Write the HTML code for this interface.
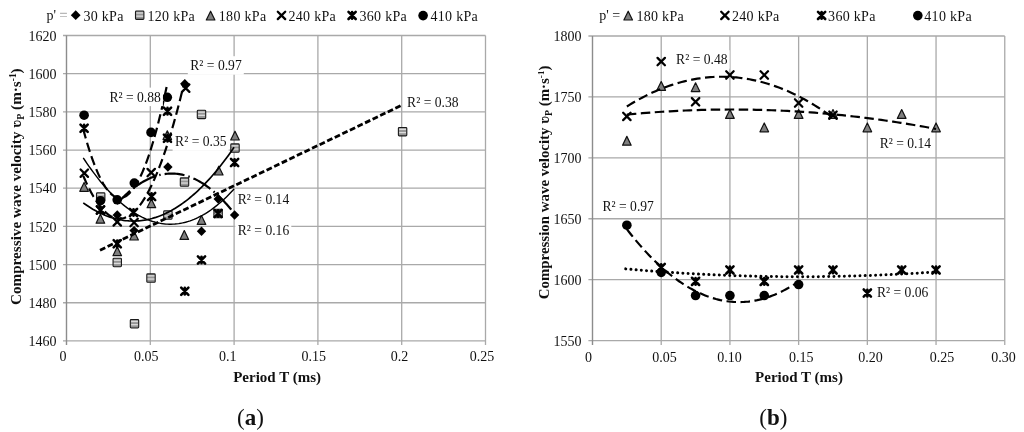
<!DOCTYPE html><html><head><meta charset="utf-8"><style>html,body{margin:0;padding:0;background:#fff;width:1024px;height:432px;overflow:hidden}</style></head><body><svg width="1024" height="432" viewBox="0 0 1024 432" style="position:absolute;left:0;top:0;filter:blur(0.35px);font-family:'Liberation Serif', serif;fill:#111">
<defs><pattern id="stripe" patternUnits="userSpaceOnUse" width="4" height="2.6"><rect width="4" height="2.6" fill="#8e8e8e"/><rect y="0" width="4" height="1.2" fill="#d4d4d4"/></pattern></defs>
<rect width="1024" height="432" fill="#fff"/>
<line x1="63.00" y1="35.50" x2="485.50" y2="35.50" stroke="#a9a9a9" stroke-width="1.3" />
<line x1="63.00" y1="73.68" x2="485.50" y2="73.68" stroke="#a9a9a9" stroke-width="1.3" />
<line x1="63.00" y1="111.86" x2="485.50" y2="111.86" stroke="#a9a9a9" stroke-width="1.3" />
<line x1="63.00" y1="150.04" x2="485.50" y2="150.04" stroke="#a9a9a9" stroke-width="1.3" />
<line x1="63.00" y1="188.22" x2="485.50" y2="188.22" stroke="#a9a9a9" stroke-width="1.3" />
<line x1="63.00" y1="226.40" x2="485.50" y2="226.40" stroke="#a9a9a9" stroke-width="1.3" />
<line x1="63.00" y1="264.58" x2="485.50" y2="264.58" stroke="#a9a9a9" stroke-width="1.3" />
<line x1="63.00" y1="302.76" x2="485.50" y2="302.76" stroke="#a9a9a9" stroke-width="1.3" />
<line x1="63.00" y1="340.94" x2="485.50" y2="340.94" stroke="#a9a9a9" stroke-width="1.3" />
<line x1="150.30" y1="35.50" x2="150.30" y2="345.00" stroke="#a9a9a9" stroke-width="1.3" />
<line x1="234.10" y1="35.50" x2="234.10" y2="345.00" stroke="#a9a9a9" stroke-width="1.3" />
<line x1="317.90" y1="35.50" x2="317.90" y2="345.00" stroke="#a9a9a9" stroke-width="1.3" />
<line x1="401.70" y1="35.50" x2="401.70" y2="345.00" stroke="#a9a9a9" stroke-width="1.3" />
<line x1="485.50" y1="35.50" x2="485.50" y2="345.00" stroke="#a9a9a9" stroke-width="1.3" />
<line x1="66.50" y1="35.50" x2="66.50" y2="345.00" stroke="#8c8c8c" stroke-width="1.4" />
<line x1="588.40" y1="36.00" x2="1004.75" y2="36.00" stroke="#a9a9a9" stroke-width="1.3" />
<line x1="588.40" y1="96.92" x2="1004.75" y2="96.92" stroke="#a9a9a9" stroke-width="1.3" />
<line x1="588.40" y1="157.84" x2="1004.75" y2="157.84" stroke="#a9a9a9" stroke-width="1.3" />
<line x1="588.40" y1="218.76" x2="1004.75" y2="218.76" stroke="#a9a9a9" stroke-width="1.3" />
<line x1="588.40" y1="279.68" x2="1004.75" y2="279.68" stroke="#a9a9a9" stroke-width="1.3" />
<line x1="588.40" y1="340.60" x2="1004.75" y2="340.60" stroke="#a9a9a9" stroke-width="1.3" />
<line x1="661.21" y1="36.00" x2="661.21" y2="345.00" stroke="#a9a9a9" stroke-width="1.3" />
<line x1="729.92" y1="36.00" x2="729.92" y2="345.00" stroke="#a9a9a9" stroke-width="1.3" />
<line x1="798.63" y1="36.00" x2="798.63" y2="345.00" stroke="#a9a9a9" stroke-width="1.3" />
<line x1="867.34" y1="36.00" x2="867.34" y2="345.00" stroke="#a9a9a9" stroke-width="1.3" />
<line x1="936.05" y1="36.00" x2="936.05" y2="345.00" stroke="#a9a9a9" stroke-width="1.3" />
<line x1="1004.76" y1="36.00" x2="1004.76" y2="345.00" stroke="#a9a9a9" stroke-width="1.3" />
<line x1="592.50" y1="36.00" x2="592.50" y2="345.00" stroke="#8c8c8c" stroke-width="1.4" />
<text x="56.50" y="40.70" font-size="14" text-anchor="end" font-weight="normal" >1620</text>
<text x="56.50" y="78.88" font-size="14" text-anchor="end" font-weight="normal" >1600</text>
<text x="56.50" y="117.06" font-size="14" text-anchor="end" font-weight="normal" >1580</text>
<text x="56.50" y="155.24" font-size="14" text-anchor="end" font-weight="normal" >1560</text>
<text x="56.50" y="193.42" font-size="14" text-anchor="end" font-weight="normal" >1540</text>
<text x="56.50" y="231.60" font-size="14" text-anchor="end" font-weight="normal" >1520</text>
<text x="56.50" y="269.78" font-size="14" text-anchor="end" font-weight="normal" >1500</text>
<text x="56.50" y="307.96" font-size="14" text-anchor="end" font-weight="normal" >1480</text>
<text x="56.50" y="346.14" font-size="14" text-anchor="end" font-weight="normal" >1460</text>
<text x="581.50" y="41.20" font-size="14" text-anchor="end" font-weight="normal" >1800</text>
<text x="581.50" y="102.12" font-size="14" text-anchor="end" font-weight="normal" >1750</text>
<text x="581.50" y="163.04" font-size="14" text-anchor="end" font-weight="normal" >1700</text>
<text x="581.50" y="223.96" font-size="14" text-anchor="end" font-weight="normal" >1650</text>
<text x="581.50" y="284.88" font-size="14" text-anchor="end" font-weight="normal" >1600</text>
<text x="581.50" y="345.80" font-size="14" text-anchor="end" font-weight="normal" >1550</text>
<text x="62.90" y="361.30" font-size="14" text-anchor="middle" font-weight="normal" >0</text>
<text x="146.25" y="361.30" font-size="14" text-anchor="middle" font-weight="normal" >0.05</text>
<text x="227.80" y="361.30" font-size="14" text-anchor="middle" font-weight="normal" >0.1</text>
<text x="313.75" y="361.30" font-size="14" text-anchor="middle" font-weight="normal" >0.15</text>
<text x="399.40" y="361.30" font-size="14" text-anchor="middle" font-weight="normal" >0.2</text>
<text x="481.90" y="361.30" font-size="14" text-anchor="middle" font-weight="normal" >0.25</text>
<text x="588.40" y="361.60" font-size="14" text-anchor="middle" font-weight="normal" >0</text>
<text x="664.40" y="361.60" font-size="14" text-anchor="middle" font-weight="normal" >0.05</text>
<text x="729.40" y="361.60" font-size="14" text-anchor="middle" font-weight="normal" >0.10</text>
<text x="801.20" y="361.60" font-size="14" text-anchor="middle" font-weight="normal" >0.15</text>
<text x="870.40" y="361.60" font-size="14" text-anchor="middle" font-weight="normal" >0.20</text>
<text x="942.10" y="361.60" font-size="14" text-anchor="middle" font-weight="normal" >0.25</text>
<text x="1003.40" y="361.60" font-size="14" text-anchor="middle" font-weight="normal" >0.30</text>
<text x="277.10" y="381.60" font-size="15" text-anchor="middle" font-weight="bold" >Period T (ms)</text>
<text x="799.00" y="381.60" font-size="15" text-anchor="middle" font-weight="bold" >Period T (ms)</text>
<text transform="translate(21.3,186.7) rotate(-90)" font-size="15.2" font-weight="bold" text-anchor="middle">Compressive wave velocity ʋ<tspan font-size="10.0" dy="2.5">P</tspan><tspan dy="-2.5"> (m·s</tspan><tspan font-size="9.4" dy="-5">-1</tspan><tspan dy="5">)</tspan></text>
<text transform="translate(549,182.4) rotate(-90)" font-size="14.9" font-weight="bold" text-anchor="middle">Compression wave velocity ʋ<tspan font-size="9.8" dy="2.5">P</tspan><tspan dy="-2.5"> (m·s</tspan><tspan font-size="9.2" dy="-5">-1</tspan><tspan dy="5">)</tspan></text>
<text x="250.4" y="425.3" font-size="23" text-anchor="middle">(<tspan font-weight="bold">a</tspan>)</text>
<text x="773.4" y="425.3" font-size="23" text-anchor="middle">(<tspan font-weight="bold">b</tspan>)</text>
<text x="46.60" y="19.80" font-size="14" text-anchor="start" font-weight="normal" >p'</text>
<text x="59.50" y="19.70" font-size="14" text-anchor="start" font-weight="normal" fill="#999" stroke="#bbb" stroke-width="0.4">=</text>
<path d="M75.70,10.30L80.60,15.20L75.70,20.10L70.80,15.20Z" fill="#000"/>
<text x="83.40" y="20.60" font-size="14" text-anchor="start" font-weight="normal" letter-spacing="0.3">30 kPa</text>
<rect x="135.50" y="11.00" width="8.40" height="8.40" rx="0.9" fill="#959595" stroke="#1a1a1a" stroke-width="1.1"/>
<rect x="136.30" y="12.30" width="6.80" height="1.3" fill="#dcdcdc"/>
<rect x="136.30" y="15.50" width="6.80" height="1.3" fill="#dcdcdc"/>
<text x="147.50" y="20.60" font-size="14" text-anchor="start" font-weight="normal" letter-spacing="0.3">120 kPa</text>
<path d="M210.60,11.20L214.90,20.00L206.30,20.00Z" fill="#7f7f7f" stroke="#111" stroke-width="1.2" stroke-linejoin="round"/>
<text x="218.80" y="20.60" font-size="14" text-anchor="start" font-weight="normal" letter-spacing="0.3">180 kPa</text>
<path d="M277.80,11.70L285.20,19.10M285.20,11.70L277.80,19.10" stroke="#000" stroke-width="2.3" stroke-linecap="round"/>
<text x="288.50" y="20.60" font-size="14" text-anchor="start" font-weight="normal" letter-spacing="0.3">240 kPa</text>
<path d="M348.50,11.80L355.70,19.00M355.70,11.80L348.50,19.00M352.10,12.10L352.10,18.70" stroke="#000" stroke-width="2.6" stroke-linecap="round"/>
<text x="359.50" y="20.60" font-size="14" text-anchor="start" font-weight="normal" letter-spacing="0.3">360 kPa</text>
<circle cx="423.10" cy="15.60" r="4.80" fill="#000"/>
<text x="430.50" y="20.60" font-size="14" text-anchor="start" font-weight="normal" letter-spacing="0.3">410 kPa</text>
<text x="599.30" y="19.80" font-size="14" text-anchor="start" font-weight="normal" >p'</text>
<text x="612.20" y="19.80" font-size="14" text-anchor="start" font-weight="normal" >=</text>
<path d="M628.20,11.20L632.50,20.00L623.90,20.00Z" fill="#7f7f7f" stroke="#111" stroke-width="1.2" stroke-linejoin="round"/>
<text x="636.40" y="20.60" font-size="14" text-anchor="start" font-weight="normal" letter-spacing="0.3">180 kPa</text>
<path d="M721.20,11.70L728.60,19.10M728.60,11.70L721.20,19.10" stroke="#000" stroke-width="2.3" stroke-linecap="round"/>
<text x="732.00" y="20.60" font-size="14" text-anchor="start" font-weight="normal" letter-spacing="0.3">240 kPa</text>
<path d="M818.00,11.80L825.20,19.00M825.20,11.80L818.00,19.00M821.60,12.10L821.60,18.70" stroke="#000" stroke-width="2.6" stroke-linecap="round"/>
<text x="828.10" y="20.60" font-size="14" text-anchor="start" font-weight="normal" letter-spacing="0.3">360 kPa</text>
<circle cx="917.80" cy="15.60" r="4.80" fill="#000"/>
<text x="924.30" y="20.60" font-size="14" text-anchor="start" font-weight="normal" letter-spacing="0.3">410 kPa</text>
<path d="M184.80,79.05L189.50,83.75L184.80,88.45L180.10,83.75Z" fill="#000"/>
<path d="M167.90,162.30L172.60,167.00L167.90,171.70L163.20,167.00Z" fill="#000"/>
<path d="M117.25,210.30L121.95,215.00L117.25,219.70L112.55,215.00Z" fill="#000"/>
<path d="M134.10,225.90L138.80,230.60L134.10,235.30L129.40,230.60Z" fill="#000"/>
<path d="M201.50,226.55L206.20,231.25L201.50,235.95L196.80,231.25Z" fill="#000"/>
<path d="M218.20,194.30L222.90,199.00L218.20,203.70L213.50,199.00Z" fill="#000"/>
<path d="M234.60,210.30L239.30,215.00L234.60,219.70L229.90,215.00Z" fill="#000"/>
<rect x="398.40" y="127.45" width="8.40" height="8.40" rx="0.9" fill="#959595" stroke="#1a1a1a" stroke-width="1.1"/>
<rect x="399.20" y="128.75" width="6.80" height="1.3" fill="#dcdcdc"/>
<rect x="399.20" y="131.95" width="6.80" height="1.3" fill="#dcdcdc"/>
<rect x="197.30" y="110.20" width="8.40" height="8.40" rx="0.9" fill="#959595" stroke="#1a1a1a" stroke-width="1.1"/>
<rect x="198.10" y="111.50" width="6.80" height="1.3" fill="#dcdcdc"/>
<rect x="198.10" y="114.70" width="6.80" height="1.3" fill="#dcdcdc"/>
<rect x="230.80" y="143.90" width="8.40" height="8.40" rx="0.9" fill="#959595" stroke="#1a1a1a" stroke-width="1.1"/>
<rect x="231.60" y="145.20" width="6.80" height="1.3" fill="#dcdcdc"/>
<rect x="231.60" y="148.40" width="6.80" height="1.3" fill="#dcdcdc"/>
<rect x="180.30" y="177.90" width="8.40" height="8.40" rx="0.9" fill="#959595" stroke="#1a1a1a" stroke-width="1.1"/>
<rect x="181.10" y="179.20" width="6.80" height="1.3" fill="#dcdcdc"/>
<rect x="181.10" y="182.40" width="6.80" height="1.3" fill="#dcdcdc"/>
<rect x="96.50" y="192.80" width="8.40" height="8.40" rx="0.9" fill="#959595" stroke="#1a1a1a" stroke-width="1.1"/>
<rect x="97.30" y="194.10" width="6.80" height="1.3" fill="#dcdcdc"/>
<rect x="97.30" y="197.30" width="6.80" height="1.3" fill="#dcdcdc"/>
<rect x="163.70" y="210.80" width="8.40" height="8.40" rx="0.9" fill="#959595" stroke="#1a1a1a" stroke-width="1.1"/>
<rect x="164.50" y="212.10" width="6.80" height="1.3" fill="#dcdcdc"/>
<rect x="164.50" y="215.30" width="6.80" height="1.3" fill="#dcdcdc"/>
<rect x="213.90" y="209.30" width="8.40" height="8.40" rx="0.9" fill="#959595" stroke="#1a1a1a" stroke-width="1.1"/>
<rect x="214.70" y="210.60" width="6.80" height="1.3" fill="#dcdcdc"/>
<rect x="214.70" y="213.80" width="6.80" height="1.3" fill="#dcdcdc"/>
<rect x="113.05" y="258.30" width="8.40" height="8.40" rx="0.9" fill="#959595" stroke="#1a1a1a" stroke-width="1.1"/>
<rect x="113.85" y="259.60" width="6.80" height="1.3" fill="#dcdcdc"/>
<rect x="113.85" y="262.80" width="6.80" height="1.3" fill="#dcdcdc"/>
<rect x="146.80" y="273.90" width="8.40" height="8.40" rx="0.9" fill="#959595" stroke="#1a1a1a" stroke-width="1.1"/>
<rect x="147.60" y="275.20" width="6.80" height="1.3" fill="#dcdcdc"/>
<rect x="147.60" y="278.40" width="6.80" height="1.3" fill="#dcdcdc"/>
<rect x="130.30" y="319.55" width="8.40" height="8.40" rx="0.9" fill="#959595" stroke="#1a1a1a" stroke-width="1.1"/>
<rect x="131.10" y="320.85" width="6.80" height="1.3" fill="#dcdcdc"/>
<rect x="131.10" y="324.05" width="6.80" height="1.3" fill="#dcdcdc"/>
<path d="M235.00,131.20L239.30,140.00L230.70,140.00Z" fill="#7f7f7f" stroke="#111" stroke-width="1.2" stroke-linejoin="round"/>
<path d="M218.75,166.20L223.05,175.00L214.45,175.00Z" fill="#7f7f7f" stroke="#111" stroke-width="1.2" stroke-linejoin="round"/>
<path d="M84.10,182.50L88.40,191.30L79.80,191.30Z" fill="#7f7f7f" stroke="#111" stroke-width="1.2" stroke-linejoin="round"/>
<path d="M151.40,198.90L155.70,207.70L147.10,207.70Z" fill="#7f7f7f" stroke="#111" stroke-width="1.2" stroke-linejoin="round"/>
<path d="M100.40,214.35L104.70,223.15L96.10,223.15Z" fill="#7f7f7f" stroke="#111" stroke-width="1.2" stroke-linejoin="round"/>
<path d="M201.50,215.60L205.80,224.40L197.20,224.40Z" fill="#7f7f7f" stroke="#111" stroke-width="1.2" stroke-linejoin="round"/>
<path d="M184.30,230.60L188.60,239.40L180.00,239.40Z" fill="#7f7f7f" stroke="#111" stroke-width="1.2" stroke-linejoin="round"/>
<path d="M134.10,231.20L138.40,240.00L129.80,240.00Z" fill="#7f7f7f" stroke="#111" stroke-width="1.2" stroke-linejoin="round"/>
<path d="M117.25,246.85L121.55,255.65L112.95,255.65Z" fill="#7f7f7f" stroke="#111" stroke-width="1.2" stroke-linejoin="round"/>
<path d="M167.30,130.80L171.60,139.60L163.00,139.60Z" fill="#7f7f7f" stroke="#111" stroke-width="1.2" stroke-linejoin="round"/>
<path d="M182.00,84.50L189.40,91.90M189.40,84.50L182.00,91.90" stroke="#000" stroke-width="2.3" stroke-linecap="round"/>
<path d="M80.60,169.50L88.00,176.90M88.00,169.50L80.60,176.90" stroke="#000" stroke-width="2.3" stroke-linecap="round"/>
<path d="M147.50,168.90L154.90,176.30M154.90,168.90L147.50,176.30" stroke="#000" stroke-width="2.3" stroke-linecap="round"/>
<path d="M113.55,218.20L120.95,225.60M120.95,218.20L113.55,225.60" stroke="#000" stroke-width="2.3" stroke-linecap="round"/>
<path d="M130.40,218.80L137.80,226.20M137.80,218.80L130.40,226.20" stroke="#000" stroke-width="2.3" stroke-linecap="round"/>
<path d="M96.80,206.30L104.20,213.70M104.20,206.30L96.80,213.70" stroke="#000" stroke-width="2.3" stroke-linecap="round"/>
<path d="M80.50,124.60L87.70,131.80M87.70,124.60L80.50,131.80M84.10,124.90L84.10,131.50" stroke="#000" stroke-width="2.6" stroke-linecap="round"/>
<path d="M163.90,107.60L171.10,114.80M171.10,107.60L163.90,114.80M167.50,107.90L167.50,114.50" stroke="#000" stroke-width="2.6" stroke-linecap="round"/>
<path d="M163.90,134.60L171.10,141.80M171.10,134.60L163.90,141.80M167.50,134.90L167.50,141.50" stroke="#000" stroke-width="2.6" stroke-linecap="round"/>
<path d="M148.00,192.90L155.20,200.10M155.20,192.90L148.00,200.10M151.60,193.20L151.60,199.80" stroke="#000" stroke-width="2.6" stroke-linecap="round"/>
<path d="M96.90,206.40L104.10,213.60M104.10,206.40L96.90,213.60M100.50,206.70L100.50,213.30" stroke="#000" stroke-width="2.6" stroke-linecap="round"/>
<path d="M129.90,208.90L137.10,216.10M137.10,208.90L129.90,216.10M133.50,209.20L133.50,215.80" stroke="#000" stroke-width="2.6" stroke-linecap="round"/>
<path d="M113.65,240.15L120.85,247.35M120.85,240.15L113.65,247.35M117.25,240.45L117.25,247.05" stroke="#000" stroke-width="2.6" stroke-linecap="round"/>
<path d="M214.50,209.90L221.70,217.10M221.70,209.90L214.50,217.10M218.10,210.20L218.10,216.80" stroke="#000" stroke-width="2.6" stroke-linecap="round"/>
<path d="M231.00,158.90L238.20,166.10M238.20,158.90L231.00,166.10M234.60,159.20L234.60,165.80" stroke="#000" stroke-width="2.6" stroke-linecap="round"/>
<path d="M197.90,256.40L205.10,263.60M205.10,256.40L197.90,263.60M201.50,256.70L201.50,263.30" stroke="#000" stroke-width="2.6" stroke-linecap="round"/>
<path d="M181.20,287.60L188.40,294.80M188.40,287.60L181.20,294.80M184.80,287.90L184.80,294.50" stroke="#000" stroke-width="2.6" stroke-linecap="round"/>
<circle cx="84.10" cy="115.20" r="4.80" fill="#000"/>
<circle cx="100.50" cy="200.70" r="4.80" fill="#000"/>
<circle cx="117.20" cy="199.80" r="4.80" fill="#000"/>
<circle cx="134.30" cy="183.10" r="4.80" fill="#000"/>
<circle cx="151.00" cy="132.40" r="4.80" fill="#000"/>
<circle cx="167.30" cy="97.30" r="4.80" fill="#000"/>
<path d="M83.26,129.25 L84.32,133.16 L85.38,136.96 L86.44,140.64 L87.50,144.21 L88.56,147.67 L89.62,151.00 L90.69,154.23 L91.75,157.34 L92.81,160.33 L93.87,163.21 L94.93,165.97 L95.99,168.62 L97.05,171.16 L98.11,173.58 L99.17,175.88 L100.23,178.07 L101.29,180.15 L102.35,182.11 L103.41,183.96 L104.48,185.69 L105.54,187.30 L106.60,188.81 L107.66,190.19 L108.72,191.47 L109.78,192.62 L110.84,193.67 L111.90,194.59 L112.96,195.41 L114.02,196.10 L115.08,196.69 L116.14,197.16 L117.20,197.51 L118.27,197.75 L119.33,197.87 L120.39,197.88 L121.45,197.78 L122.51,197.56 L123.57,197.22 L124.63,196.77 L125.69,196.21 L126.75,195.53 L127.81,194.74 L128.87,193.83 L129.93,192.80 L130.99,191.67 L132.05,190.41 L133.12,189.04 L134.18,187.56 L135.24,185.96 L136.30,184.25 L137.36,182.43 L138.42,180.48 L139.48,178.43 L140.54,176.26 L141.60,173.97 L142.66,171.57 L143.72,169.05 L144.78,166.42 L145.84,163.68 L146.91,160.82 L147.97,157.84 L149.03,154.75 L150.09,151.55 L151.15,148.23 L152.21,144.79 L153.27,141.24 L154.33,137.58 L155.39,133.80 L156.45,129.91 L157.51,125.90 L158.57,121.78 L159.63,117.54 L160.70,113.19 L161.76,108.72 L162.82,104.14 L163.88,99.44 L164.94,94.63 L166.00,89.70 L167.06,84.66" fill="none" stroke="#000" stroke-width="2.2" stroke-dasharray="9.5 4.5" stroke-linecap="butt" stroke-linejoin="round"/>
<path d="M83.26,175.82 L84.53,178.77 L85.81,181.62 L87.08,184.36 L88.35,186.99 L89.62,189.52 L90.90,191.95 L92.17,194.27 L93.44,196.48 L94.72,198.59 L95.99,200.59 L97.26,202.49 L98.53,204.28 L99.81,205.97 L101.08,207.55 L102.35,209.03 L103.63,210.40 L104.90,211.67 L106.17,212.83 L107.45,213.88 L108.72,214.83 L109.99,215.68 L111.26,216.42 L112.54,217.05 L113.81,217.58 L115.08,218.00 L116.36,218.32 L117.63,218.53 L118.90,218.64 L120.17,218.64 L121.45,218.54 L122.72,218.33 L123.99,218.01 L125.27,217.59 L126.54,217.07 L127.81,216.44 L129.08,215.70 L130.36,214.86 L131.63,213.92 L132.90,212.86 L134.18,211.71 L135.45,210.44 L136.72,209.08 L138.00,207.60 L139.27,206.03 L140.54,204.34 L141.81,202.55 L143.09,200.66 L144.36,198.66 L145.63,196.55 L146.91,194.34 L148.18,192.03 L149.45,189.61 L150.72,187.08 L152.00,184.45 L153.27,181.71 L154.54,178.87 L155.82,175.92 L157.09,172.87 L158.36,169.71 L159.63,166.44 L160.91,163.08 L162.18,159.60 L163.45,156.02 L164.73,152.34 L166.00,148.55 L167.27,144.65 L168.55,140.65 L169.82,136.54 L171.09,132.33 L172.36,128.01 L173.64,123.59 L174.91,119.06 L176.18,114.43 L177.46,109.69 L178.73,104.84 L180.00,99.90 L181.27,94.84 L182.55,89.68 L183.82,84.41" fill="none" stroke="#000" stroke-width="2.2" stroke-dasharray="9.5 4.5" stroke-linecap="butt" stroke-linejoin="round"/>
<path d="M83.26,157.88 L85.17,160.76 L87.08,163.56 L88.99,166.31 L90.90,168.99 L92.81,171.61 L94.72,174.16 L96.63,176.65 L98.53,179.08 L100.44,181.44 L102.35,183.74 L104.26,185.98 L106.17,188.15 L108.08,190.26 L109.99,192.30 L111.90,194.28 L113.81,196.20 L115.72,198.06 L117.63,199.85 L119.54,201.58 L121.45,203.24 L123.36,204.84 L125.27,206.38 L127.18,207.85 L129.08,209.26 L130.99,210.61 L132.90,211.89 L134.81,213.11 L136.72,214.26 L138.63,215.36 L140.54,216.38 L142.45,217.35 L144.36,218.25 L146.27,219.09 L148.18,219.86 L150.09,220.57 L152.00,221.22 L153.91,221.80 L155.82,222.32 L157.73,222.78 L159.63,223.17 L161.54,223.50 L163.45,223.77 L165.36,223.97 L167.27,224.11 L169.18,224.19 L171.09,224.20 L173.00,224.14 L174.91,224.03 L176.82,223.85 L178.73,223.61 L180.64,223.30 L182.55,222.93 L184.46,222.50 L186.37,222.00 L188.28,221.44 L190.18,220.82 L192.09,220.13 L194.00,219.38 L195.91,218.56 L197.82,217.69 L199.73,216.74 L201.64,215.74 L203.55,214.67 L205.46,213.54 L207.37,212.34 L209.28,211.08 L211.19,209.76 L213.10,208.37 L215.01,206.92 L216.92,205.41 L218.83,203.83 L220.73,202.19 L222.64,200.49 L224.55,198.72 L226.46,196.89 L228.37,194.99 L230.28,193.03 L232.19,191.01 L234.10,188.92" fill="none" stroke="#000" stroke-width="1.4"  stroke-linecap="butt" stroke-linejoin="round"/>
<path d="M83.26,202.88 L85.17,204.24 L87.08,205.55 L88.99,206.80 L90.90,208.00 L92.81,209.15 L94.72,210.24 L96.63,211.29 L98.53,212.27 L100.44,213.21 L102.35,214.09 L104.26,214.92 L106.17,215.70 L108.08,216.43 L109.99,217.10 L111.90,217.72 L113.81,218.28 L115.72,218.79 L117.63,219.25 L119.54,219.66 L121.45,220.01 L123.36,220.31 L125.27,220.56 L127.18,220.76 L129.08,220.90 L130.99,220.99 L132.90,221.03 L134.81,221.01 L136.72,220.94 L138.63,220.82 L140.54,220.64 L142.45,220.41 L144.36,220.13 L146.27,219.80 L148.18,219.41 L150.09,218.97 L152.00,218.48 L153.91,217.93 L155.82,217.34 L157.73,216.68 L159.63,215.98 L161.54,215.22 L163.45,214.41 L165.36,213.55 L167.27,212.63 L169.18,211.66 L171.09,210.64 L173.00,209.57 L174.91,208.44 L176.82,207.26 L178.73,206.03 L180.64,204.74 L182.55,203.40 L184.46,202.01 L186.37,200.56 L188.28,199.06 L190.18,197.51 L192.09,195.91 L194.00,194.25 L195.91,192.54 L197.82,190.78 L199.73,188.96 L201.64,187.10 L203.55,185.18 L205.46,183.20 L207.37,181.17 L209.28,179.09 L211.19,176.96 L213.10,174.77 L215.01,172.54 L216.92,170.24 L218.83,167.90 L220.73,165.50 L222.64,163.05 L224.55,160.55 L226.46,157.99 L228.37,155.38 L230.28,152.72 L232.19,150.01 L234.10,147.24" fill="none" stroke="#000" stroke-width="1.7"  stroke-linecap="butt" stroke-linejoin="round"/>
<path d="M100.02,250.17 L401.70,105.27" fill="none" stroke="#000" stroke-width="2.8" stroke-dasharray="5.8 2.6" stroke-linecap="butt" stroke-linejoin="round"/>
<g stroke-dashoffset="1.4">
<path d="M116.75,203.93 L118.24,202.30 L119.72,200.72 L121.21,199.19 L122.69,197.70 L124.18,196.25 L125.66,194.85 L127.15,193.49 L128.63,192.18 L130.12,190.91 L131.60,189.69 L133.09,188.51 L134.58,187.38 L136.06,186.29 L137.55,185.25 L139.03,184.25 L140.52,183.29 L142.00,182.38 L143.49,181.52 L144.97,180.70 L146.46,179.92 L147.94,179.19 L149.43,178.50 L150.92,177.86 L152.40,177.26 L153.89,176.71 L155.37,176.20 L156.86,175.74 L158.34,175.32 L159.83,174.94 L161.31,174.61 L162.80,174.33 L164.28,174.09 L165.77,173.89 L167.26,173.74 L168.74,173.64 L170.23,173.57 L171.71,173.56 L173.20,173.58 L174.68,173.66 L176.17,173.77 L177.65,173.94 L179.14,174.14 L180.62,174.39 L182.11,174.69 L183.59,175.03 L185.08,175.41 L186.57,175.84 L188.05,176.32 L189.54,176.84 L191.02,177.40 L192.51,178.01 L193.99,178.66 L195.48,179.36 L196.96,180.10 L198.45,180.89 L199.93,181.72 L201.42,182.60 L202.91,183.52 L204.39,184.48 L205.88,185.49 L207.36,186.55 L208.85,187.65 L210.33,188.79 L211.82,189.98 L213.30,191.22 L214.79,192.49 L216.27,193.82 L217.76,195.18 L219.25,196.60 L220.73,198.05 L222.22,199.56 L223.70,201.10 L225.19,202.69 L226.67,204.33 L228.16,206.01 L229.64,207.73 L231.13,209.50 L232.61,211.32 L234.10,213.18" fill="none" stroke="#000" stroke-width="2.2" stroke-dasharray="20 4 1.5 4" stroke-linecap="butt" stroke-linejoin="round"/>
</g>
<rect x="187.80" y="56.22" width="56.00" height="18.48" fill="#fff"/>
<text x="190.30" y="70.20" font-size="13.6" text-anchor="start" font-weight="normal" >R² = 0.97</text>
<rect x="106.90" y="87.62" width="56.00" height="18.48" fill="#fff"/>
<text x="109.40" y="101.60" font-size="13.6" text-anchor="start" font-weight="normal" >R² = 0.88</text>
<rect x="172.60" y="132.42" width="56.00" height="18.48" fill="#fff"/>
<text x="175.10" y="146.40" font-size="13.6" text-anchor="start" font-weight="normal" >R² = 0.35</text>
<rect x="235.30" y="189.77" width="56.00" height="18.48" fill="#fff"/>
<text x="237.80" y="203.75" font-size="13.6" text-anchor="start" font-weight="normal" >R² = 0.14</text>
<rect x="235.30" y="220.92" width="56.00" height="18.48" fill="#fff"/>
<text x="237.80" y="234.90" font-size="13.6" text-anchor="start" font-weight="normal" >R² = 0.16</text>
<text x="407.10" y="106.90" font-size="13.6" text-anchor="start" font-weight="normal" >R² = 0.38</text>
<path d="M626.86,136.38L631.16,145.18L622.55,145.18Z" fill="#7f7f7f" stroke="#111" stroke-width="1.2" stroke-linejoin="round"/>
<path d="M661.21,81.55L665.51,90.35L656.91,90.35Z" fill="#7f7f7f" stroke="#111" stroke-width="1.2" stroke-linejoin="round"/>
<path d="M695.57,82.77L699.87,91.57L691.26,91.57Z" fill="#7f7f7f" stroke="#111" stroke-width="1.2" stroke-linejoin="round"/>
<path d="M729.92,109.58L734.22,118.38L725.62,118.38Z" fill="#7f7f7f" stroke="#111" stroke-width="1.2" stroke-linejoin="round"/>
<path d="M764.27,122.98L768.58,131.78L759.97,131.78Z" fill="#7f7f7f" stroke="#111" stroke-width="1.2" stroke-linejoin="round"/>
<path d="M798.63,109.58L802.93,118.38L794.33,118.38Z" fill="#7f7f7f" stroke="#111" stroke-width="1.2" stroke-linejoin="round"/>
<path d="M832.99,109.58L837.29,118.38L828.68,118.38Z" fill="#7f7f7f" stroke="#111" stroke-width="1.2" stroke-linejoin="round"/>
<path d="M867.34,122.98L871.64,131.78L863.04,131.78Z" fill="#7f7f7f" stroke="#111" stroke-width="1.2" stroke-linejoin="round"/>
<path d="M901.69,109.58L906.00,118.38L897.39,118.38Z" fill="#7f7f7f" stroke="#111" stroke-width="1.2" stroke-linejoin="round"/>
<path d="M936.05,122.98L940.35,131.78L931.75,131.78Z" fill="#7f7f7f" stroke="#111" stroke-width="1.2" stroke-linejoin="round"/>
<path d="M623.15,112.71L630.56,120.11M630.56,112.71L623.15,120.11" stroke="#000" stroke-width="2.3" stroke-linecap="round"/>
<path d="M657.51,57.89L664.91,65.29M664.91,57.89L657.51,65.29" stroke="#000" stroke-width="2.3" stroke-linecap="round"/>
<path d="M691.87,98.09L699.27,105.49M699.27,98.09L691.87,105.49" stroke="#000" stroke-width="2.3" stroke-linecap="round"/>
<path d="M726.22,71.29L733.62,78.69M733.62,71.29L726.22,78.69" stroke="#000" stroke-width="2.3" stroke-linecap="round"/>
<path d="M760.57,71.29L767.98,78.69M767.98,71.29L760.57,78.69" stroke="#000" stroke-width="2.3" stroke-linecap="round"/>
<path d="M794.93,99.31L802.33,106.71M802.33,99.31L794.93,106.71" stroke="#000" stroke-width="2.3" stroke-linecap="round"/>
<path d="M829.28,111.50L836.69,118.90M836.69,111.50L829.28,118.90" stroke="#000" stroke-width="2.3" stroke-linecap="round"/>
<path d="M657.61,263.90L664.81,271.10M664.81,263.90L657.61,271.10M661.21,264.20L661.21,270.80" stroke="#000" stroke-width="2.6" stroke-linecap="round"/>
<path d="M691.97,277.79L699.17,284.99M699.17,277.79L691.97,284.99M695.57,278.09L695.57,284.69" stroke="#000" stroke-width="2.6" stroke-linecap="round"/>
<path d="M726.32,266.33L733.52,273.53M733.52,266.33L726.32,273.53M729.92,266.63L729.92,273.23" stroke="#000" stroke-width="2.6" stroke-linecap="round"/>
<path d="M760.67,277.79L767.88,284.99M767.88,277.79L760.67,284.99M764.27,278.09L764.27,284.69" stroke="#000" stroke-width="2.6" stroke-linecap="round"/>
<path d="M795.03,266.33L802.23,273.53M802.23,266.33L795.03,273.53M798.63,266.63L798.63,273.23" stroke="#000" stroke-width="2.6" stroke-linecap="round"/>
<path d="M829.38,266.33L836.59,273.53M836.59,266.33L829.38,273.53M832.99,266.63L832.99,273.23" stroke="#000" stroke-width="2.6" stroke-linecap="round"/>
<path d="M863.74,289.48L870.94,296.68M870.94,289.48L863.74,296.68M867.34,289.78L867.34,296.38" stroke="#000" stroke-width="2.6" stroke-linecap="round"/>
<path d="M898.09,266.33L905.29,273.53M905.29,266.33L898.09,273.53M901.69,266.63L901.69,273.23" stroke="#000" stroke-width="2.6" stroke-linecap="round"/>
<path d="M932.45,266.33L939.65,273.53M939.65,266.33L932.45,273.53M936.05,266.63L936.05,273.23" stroke="#000" stroke-width="2.6" stroke-linecap="round"/>
<circle cx="626.86" cy="225.22" r="4.80" fill="#000"/>
<circle cx="661.21" cy="272.37" r="4.80" fill="#000"/>
<circle cx="695.57" cy="295.52" r="4.80" fill="#000"/>
<circle cx="729.92" cy="295.52" r="4.80" fill="#000"/>
<circle cx="764.27" cy="295.52" r="4.80" fill="#000"/>
<circle cx="798.63" cy="284.55" r="4.80" fill="#000"/>
<path d="M626.86,229.16 L629.03,231.96 L631.20,234.70 L633.38,237.39 L635.55,240.03 L637.73,242.61 L639.90,245.13 L642.08,247.60 L644.25,250.02 L646.42,252.38 L648.60,254.69 L650.77,256.94 L652.95,259.14 L655.12,261.28 L657.30,263.37 L659.47,265.40 L661.64,267.38 L663.82,269.30 L665.99,271.17 L668.17,272.98 L670.34,274.74 L672.52,276.44 L674.69,278.09 L676.87,279.69 L679.04,281.23 L681.21,282.71 L683.39,284.14 L685.56,285.52 L687.74,286.84 L689.91,288.10 L692.09,289.31 L694.26,290.47 L696.43,291.57 L698.61,292.61 L700.78,293.60 L702.96,294.54 L705.13,295.42 L707.31,296.25 L709.48,297.02 L711.66,297.74 L713.83,298.40 L716.00,299.01 L718.18,299.56 L720.35,300.06 L722.53,300.50 L724.70,300.89 L726.88,301.22 L729.05,301.50 L731.22,301.72 L733.40,301.89 L735.57,302.00 L737.75,302.06 L739.92,302.07 L742.10,302.02 L744.27,301.91 L746.45,301.75 L748.62,301.54 L750.79,301.27 L752.97,300.94 L755.14,300.56 L757.32,300.13 L759.49,299.64 L761.67,299.09 L763.84,298.50 L766.01,297.84 L768.19,297.13 L770.36,296.37 L772.54,295.55 L774.71,294.68 L776.89,293.75 L779.06,292.77 L781.24,291.73 L783.41,290.64 L785.58,289.49 L787.76,288.29 L789.93,287.03 L792.11,285.72 L794.28,284.36 L796.46,282.94 L798.63,281.46" fill="none" stroke="#000" stroke-width="2.2" stroke-dasharray="9.5 4.5" stroke-linecap="butt" stroke-linejoin="round"/>
<path d="M626.86,106.46 L629.46,104.85 L632.07,103.28 L634.68,101.76 L637.29,100.28 L639.90,98.85 L642.51,97.46 L645.12,96.12 L647.73,94.82 L650.34,93.56 L652.95,92.36 L655.56,91.19 L658.17,90.07 L660.78,89.00 L663.38,87.97 L665.99,86.99 L668.60,86.05 L671.21,85.16 L673.82,84.31 L676.43,83.51 L679.04,82.75 L681.65,82.04 L684.26,81.37 L686.87,80.74 L689.48,80.17 L692.09,79.63 L694.70,79.14 L697.30,78.70 L699.91,78.30 L702.52,77.95 L705.13,77.64 L707.74,77.38 L710.35,77.16 L712.96,76.99 L715.57,76.86 L718.18,76.78 L720.79,76.74 L723.40,76.75 L726.01,76.80 L728.62,76.90 L731.22,77.04 L733.83,77.23 L736.44,77.46 L739.05,77.73 L741.66,78.06 L744.27,78.42 L746.88,78.84 L749.49,79.29 L752.10,79.80 L754.71,80.34 L757.32,80.93 L759.93,81.57 L762.54,82.25 L765.14,82.98 L767.75,83.75 L770.36,84.57 L772.97,85.43 L775.58,86.34 L778.19,87.29 L780.80,88.29 L783.41,89.33 L786.02,90.42 L788.63,91.55 L791.24,92.73 L793.85,93.95 L796.46,95.22 L799.06,96.53 L801.67,97.89 L804.28,99.29 L806.89,100.74 L809.50,102.23 L812.11,103.77 L814.72,105.35 L817.33,106.98 L819.94,108.65 L822.55,110.37 L825.16,112.13 L827.77,113.94 L830.38,115.79 L832.99,117.69" fill="none" stroke="#000" stroke-width="2.2" stroke-dasharray="9.5 4.5" stroke-linecap="butt" stroke-linejoin="round"/>
<path d="M626.86,114.61 L630.77,114.23 L634.68,113.87 L638.60,113.53 L642.51,113.20 L646.42,112.88 L650.34,112.58 L654.25,112.29 L658.17,112.01 L662.08,111.75 L665.99,111.51 L669.91,111.28 L673.82,111.06 L677.74,110.86 L681.65,110.67 L685.56,110.49 L689.48,110.33 L693.39,110.19 L697.30,110.05 L701.22,109.94 L705.13,109.83 L709.05,109.74 L712.96,109.67 L716.87,109.61 L720.79,109.56 L724.70,109.53 L728.62,109.51 L732.53,109.51 L736.44,109.52 L740.36,109.54 L744.27,109.58 L748.18,109.64 L752.10,109.70 L756.01,109.79 L759.93,109.88 L763.84,109.99 L767.75,110.12 L771.67,110.26 L775.58,110.41 L779.50,110.58 L783.41,110.76 L787.32,110.95 L791.24,111.16 L795.15,111.39 L799.06,111.63 L802.98,111.88 L806.89,112.15 L810.81,112.43 L814.72,112.72 L818.63,113.03 L822.55,113.36 L826.46,113.70 L830.38,114.05 L834.29,114.42 L838.20,114.80 L842.12,115.19 L846.03,115.60 L849.95,116.03 L853.86,116.47 L857.77,116.92 L861.69,117.39 L865.60,117.87 L869.51,118.36 L873.43,118.87 L877.34,119.40 L881.26,119.93 L885.17,120.49 L889.08,121.05 L893.00,121.63 L896.91,122.23 L900.83,122.84 L904.74,123.46 L908.65,124.10 L912.57,124.75 L916.48,125.42 L920.39,126.10 L924.31,126.79 L928.22,127.50 L932.14,128.23 L936.05,128.96" fill="none" stroke="#000" stroke-width="2.2" stroke-dasharray="9.5 4.5" stroke-linecap="butt" stroke-linejoin="round"/>
<path d="M625.75,268.87 L629.68,269.22 L633.60,269.56 L637.53,269.90 L641.46,270.23 L645.39,270.54 L649.31,270.85 L653.24,271.16 L657.17,271.45 L661.09,271.74 L665.02,272.02 L668.95,272.29 L672.88,272.55 L676.80,272.80 L680.73,273.05 L684.66,273.29 L688.59,273.52 L692.51,273.74 L696.44,273.96 L700.37,274.16 L704.29,274.36 L708.22,274.55 L712.15,274.73 L716.08,274.91 L720.00,275.07 L723.93,275.23 L727.86,275.38 L731.78,275.53 L735.71,275.66 L739.64,275.79 L743.57,275.91 L747.49,276.02 L751.42,276.12 L755.35,276.21 L759.28,276.30 L763.20,276.38 L767.13,276.45 L771.06,276.51 L774.98,276.57 L778.91,276.61 L782.84,276.65 L786.77,276.68 L790.69,276.70 L794.62,276.72 L798.55,276.73 L802.47,276.72 L806.40,276.71 L810.33,276.70 L814.26,276.67 L818.18,276.64 L822.11,276.60 L826.04,276.55 L829.97,276.49 L833.89,276.43 L837.82,276.35 L841.75,276.27 L845.67,276.18 L849.60,276.08 L853.53,275.98 L857.46,275.87 L861.38,275.74 L865.31,275.61 L869.24,275.48 L873.16,275.33 L877.09,275.18 L881.02,275.02 L884.95,274.85 L888.87,274.67 L892.80,274.49 L896.73,274.29 L900.66,274.09 L904.58,273.88 L908.51,273.66 L912.44,273.44 L916.36,273.21 L920.29,272.96 L924.22,272.72 L928.15,272.46 L932.07,272.19 L936.00,271.92" fill="none" stroke="#000" stroke-width="3.0" stroke-dasharray="0.01 5.2" stroke-linecap="round" stroke-linejoin="round"/>
<rect x="673.60" y="50.22" width="56.00" height="18.48" fill="#fff"/>
<text x="676.10" y="64.20" font-size="13.6" text-anchor="start" font-weight="normal" >R² = 0.48</text>
<rect x="877.20" y="134.12" width="56.00" height="18.48" fill="#fff"/>
<text x="879.70" y="148.10" font-size="13.6" text-anchor="start" font-weight="normal" >R² = 0.14</text>
<rect x="600.00" y="196.62" width="56.00" height="18.48" fill="#fff"/>
<text x="602.50" y="210.60" font-size="13.6" text-anchor="start" font-weight="normal" >R² = 0.97</text>
<rect x="874.50" y="282.62" width="56.00" height="18.48" fill="#fff"/>
<text x="877.00" y="296.60" font-size="13.6" text-anchor="start" font-weight="normal" >R² = 0.06</text>
</svg></body></html>
